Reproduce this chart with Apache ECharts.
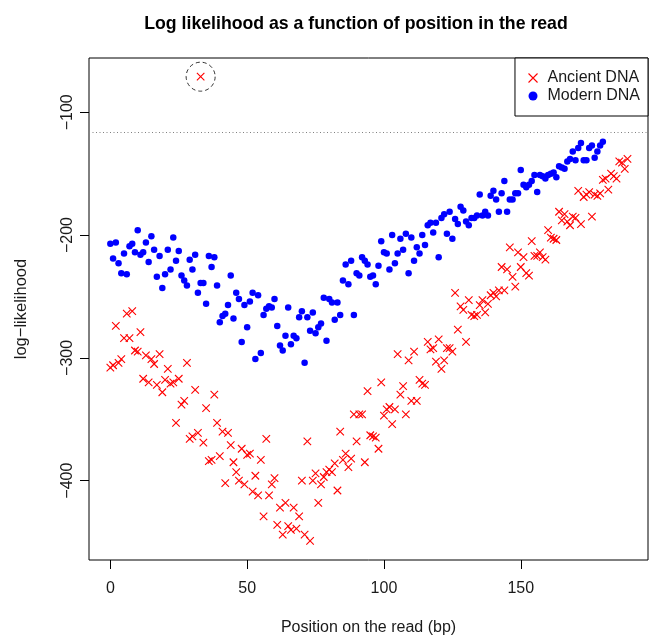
<!DOCTYPE html>
<html><head><meta charset="utf-8">
<script src="https://cdn.jsdelivr.net/npm/echarts@6/dist/echarts.min.js"></script>
<style>html,body{margin:0;padding:0;background:#fff}#chart{width:650px;height:638px}</style>
</head><body><div id="chart"></div>
<script>
const titleText = 'Log likelihood as a function of position in the read';
const xAxisTitle = 'Position on the read (bp)';
const yAxisTitle = 'log\u2212likelihood';
const seriesNames = ['Ancient DNA', 'Modern DNA'];
const xTickValues = [0, 50, 100, 150];
const yTickValues = [-400, -300, -200, -100];
const thresholdValue = [-116];
const circledPoint = [[33, -71]];

// log-likelihood per position (index = position on the read, bp)
const ancientDNA = [
 -308,-306,-274,-304,-301,-284,-264,-284,-262,-294,
 -295,-279,-317,-298,-320,-301,-305,-322,-297,-328,
 -318,-309,-321,-320,-353,-317,-338,-335,-304,-366,
 -364,-326,-361,-71,-369,-341,-384,-383,-330,-353,
 -380,-360,-402,-361,-371,-385,-393,-400,-374,-403,
 -379,-378,-409,-396,-412,-383,-429,-366,-412,-403,
 -398,-436,-422,-444,-418,-437,-440,-422,-439,-429,
 -400,-444,-368,-449,-400,-394,-418,-403,-397,-393,
 -391,-393,-386,-408,-360,-383,-378,-389,-382,-346,
 -368,-346,-346,-385,-327,-363,-364,-365,-374,-320,
 -347,-342,-340,-354,-342,-297,-330,-323,-346,-302,
 -335,-295,-335,-318,-321,-322,-287,-293,-292,-303,
 -285,-309,-302,-292,-292,-295,-247,-277,-258,-261,
 -287,-253,-265,-266,-265,-257,-253,-263,-256,-249,
 -247,-250,-245,-226,-245,-228,-210,-234,-242,-214,
 -226,-218,-231,-233,-205,-217,-217,-214,-218,-220,
 -196,-202,-203,-204,-181,-188,-183,-189,-192,-185,
 -186,-164,-191,-169,-167,-165,-185,-167,-168,-166,
 -155,-154,-163,-150,-152,-154,-140,-141,-146,-138
];
const modernDNA = [
 -207,-219,-206,-223,-231,-215,-232,-209,-207,-214,
 -196,-216,-214,-206,-222,-201,-212,-234,-217,-243,
 -232,-212,-228,-202,-221,-213,-233,-237,-241,-220,
 -228,-216,-247,-239,-239,-256,-217,-226,-218,-241,
 -271,-266,-264,-257,-233,-268,-247,-252,-287,-257,
 -275,-254,-247,-301,-249,-296,-265,-260,-258,-259,
 -252,-274,-290,-294,-282,-259,-289,-282,-284,-267,
 -262,-304,-267,-278,-263,-280,-275,-272,-251,-286,
 -252,-255,-269,-255,-265,-237,-224,-240,-221,-265,
 -231,-233,-218,-221,-224,-234,-233,-240,-225,-205,
 -214,-215,-228,-200,-223,-215,-203,-212,-199,-231,
 -202,-221,-210,-215,-200,-208,-192,-190,-198,-190,
 -218,-186,-183,-199,-181,-203,-187,-191,-177,-180,
 -189,-192,-186,-186,-184,-167,-184,-181,-184,-168,
 -164,-171,-181,-166,-156,-181,-171,-171,-166,-166,
 -147,-159,-161,-159,-156,-151,-165,-151,-152,-154,
 -151,-150,-149,-153,-144,-145,-146,-140,-138,-132,
 -139,-129,-125,-139,-139,-129,-127,-137,-132,-127,
 -124
];

const FONT = '"Liberation Sans", Arial, Helvetica, sans-serif';
const TXT = '#1a1a1a';
const crossPath = 'path://M0,0L10,10M10,0L0,10';
const minus = v => String(v).replace('-', '\u2212');

const chart = echarts.init(document.getElementById('chart'), null, {renderer: 'canvas'});
chart.setOption({
  animation: false,
  backgroundColor: '#fff',
  title: {
    text: titleText, left: 351, top: 10, textAlign: 'center',
    textStyle: {fontFamily: FONT, fontWeight: 'bold', fontSize: 17.7, color: '#000'}
  },
  grid: {
    left: 89, right: 2, top: 58, bottom: 78, show: true,
    borderColor: '#000', borderWidth: 1, backgroundColor: 'transparent',
    containLabel: false, outerBoundsMode: 'none'
  },
  legend: {
    orient: 'vertical', right: 2, top: 58,
    padding: [12, 8, 12, 13], itemGap: 2, itemWidth: 9, itemHeight: 9,
    borderColor: '#000', borderWidth: 1, borderRadius: 0, backgroundColor: '#fff',
    textStyle: {fontFamily: FONT, fontSize: 16, color: TXT, padding: [0, 0, 0, 5]},
    data: [
      {name: seriesNames[0], icon: crossPath, itemStyle: {color: 'transparent', borderColor: '#ff0000', borderWidth: 1.1}},
      {name: seriesNames[1], icon: 'circle', itemStyle: {color: '#0000ff', borderWidth: 0}}
    ]
  },
  xAxis: {
    type: 'value', min: -7.8, max: 196.5,
    name: xAxisTitle, nameLocation: 'middle', nameGap: 60,
    nameTextStyle: {fontFamily: FONT, fontSize: 16, color: TXT},
    axisLine: {show: false, onZero: false}, splitLine: {show: false},
    axisTick: {show: true, length: 9, customValues: xTickValues, lineStyle: {color: '#000', width: 1}},
    axisLabel: {customValues: xTickValues, margin: 21, fontFamily: FONT, fontSize: 16, color: TXT}
  },
  yAxis: {
    type: 'value', min: -464.6, max: -55.8,
    name: yAxisTitle, nameLocation: 'middle', nameGap: 59, nameRotate: 90,
    nameTextStyle: {fontFamily: FONT, fontSize: 16.5, color: TXT},
    axisLine: {show: false, onZero: false}, splitLine: {show: false},
    axisTick: {show: true, length: 9, customValues: yTickValues, lineStyle: {color: '#000', width: 1}},
    axisLabel: {customValues: yTickValues, rotate: 90, margin: 13, fontFamily: FONT, fontSize: 16, color: TXT, formatter: minus}
  },
  series: [
    {
      name: seriesNames[0], type: 'scatter', z: 3,
      data: ancientDNA.map((v, i) => [i, v]),
      symbol: crossPath, symbolSize: 7.5,
      itemStyle: {color: 'transparent', borderColor: '#ff0000', borderWidth: 1.1, opacity: 1},
      markLine: {
        silent: true, symbol: ['none', 'none'], label: {show: false},
        lineStyle: {color: '#808080', type: [1, 2.5], width: 1},
        data: thresholdValue.map(v => ({yAxis: v}))
      }
    },
    {
      name: seriesNames[1], type: 'scatter', z: 2,
      data: modernDNA.map((v, i) => [i, v]),
      symbol: 'circle', symbolSize: 6.5,
      itemStyle: {color: '#0000ff', opacity: 1}
    },
    {
      name: 'circled', type: 'scatter', z: 4, silent: true,
      data: circledPoint,
      symbol: 'circle', symbolSize: 29,
      itemStyle: {color: 'transparent', borderColor: '#000', borderWidth: 1, borderType: [4, 3]}
    }
  ]
});
</script>
</body></html>
